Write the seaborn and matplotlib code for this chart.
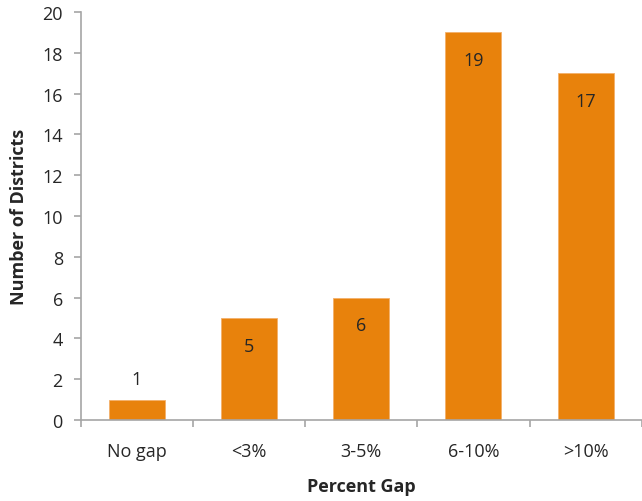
import matplotlib
matplotlib.use("Agg")
import matplotlib.pyplot as plt
import seaborn as sns
import numpy as np

categories = ["No gap", "<3%", "3-5%", "6-10%", ">10%"]
districts = [1, 5, 6, 19, 17]

sns.set_style("white")
plt.rcParams['font.family'] = ['Open Sans', 'DejaVu Sans']

fig = plt.figure(figsize=(6.42, 5.02), dpi=100)
ax = fig.add_axes([0.126, 0.1614, 0.8735, 0.8126])

sns.barplot(x=categories, y=districts, color="#E8820C", saturation=1,
            width=0.5, edgecolor="#F3B06A", linewidth=0.6, ax=ax)

# value labels: inside near the top, above the bar if it is too short
for i, v in enumerate(districts):
    if v < 2:
        ax.text(i, v + 1.0, str(v), ha="center", va="center", fontsize=13)
    else:
        ax.text(i, v - 1.35, str(v), ha="center", va="center", fontsize=13)

ax.set_ylim(0, 20)
ax.set_yticks(range(0, 21, 2))
ax.set_xlim(-0.5, 4.5)

spine_col = "#A6A6A6"
for s in ["top", "right"]:
    ax.spines[s].set_visible(False)
for s in ["left", "bottom"]:
    ax.spines[s].set_color(spine_col)
    ax.spines[s].set_linewidth(1.2)

ax.tick_params(axis="y", length=5, width=1.2, color=spine_col,
               labelsize=13, pad=8, left=True)
ax.tick_params(axis="x", which="major", length=0, labelsize=13, pad=16)
ax.set_xticks(np.arange(-0.5, 5, 1), minor=True)
ax.tick_params(axis="x", which="minor", length=5, width=1.2,
               color=spine_col, bottom=True)

ax.set_xlabel("Percent Gap", fontsize=13, fontweight="bold", labelpad=12)
ax.set_ylabel("Number of Districts", fontsize=13, fontweight="bold", labelpad=10)

fig.savefig("out.png", dpi=100)
